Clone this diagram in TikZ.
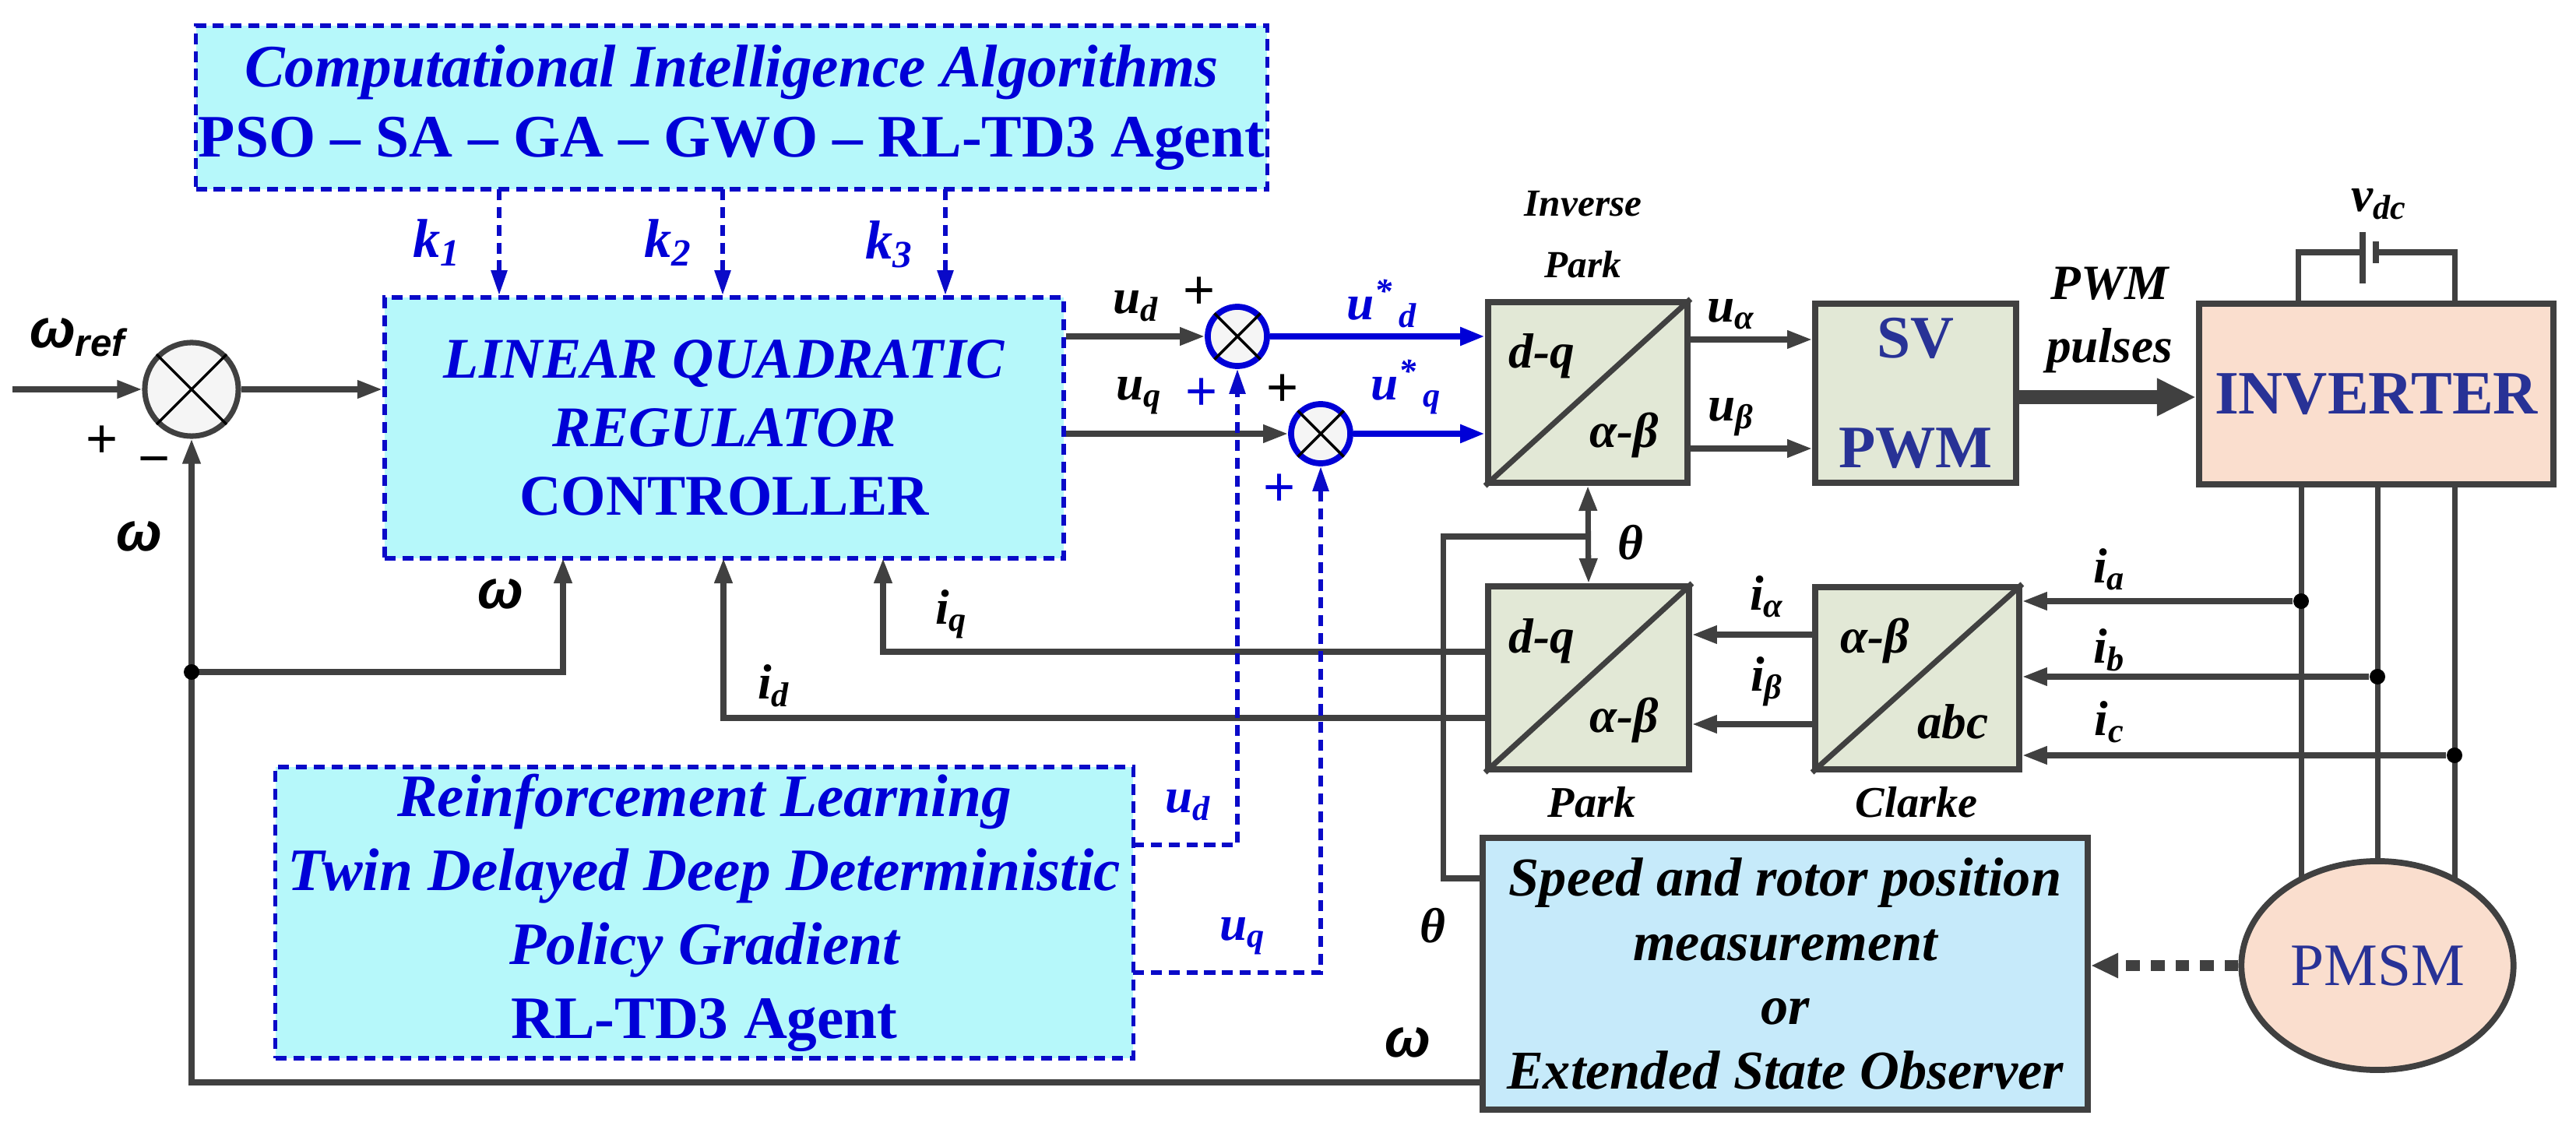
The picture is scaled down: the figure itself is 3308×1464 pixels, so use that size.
\documentclass[tikz,border=0pt]{standalone}
\usepackage{fontspec}
\setmainfont{Liberation Serif}
\newfontfamily\sansw{Liberation Sans}
\usetikzlibrary{arrows.meta,shapes.geometric,backgrounds}
\definecolor{cyanfill}{RGB}{182,248,250}
\definecolor{bluetxt}{RGB}{0,0,215}
\definecolor{dashblue}{RGB}{10,10,200}
\definecolor{lgray}{RGB}{64,64,64}
\definecolor{boxfill}{RGB}{226,232,214}
\definecolor{invfill}{RGB}{250,222,206}
\definecolor{spfill}{RGB}{198,234,250}
\definecolor{navy}{RGB}{40,50,150}
\tikzset{
  ln/.style={draw=lgray,line width=2pt},
  arr/.style={ln,-{Triangle[length=0.32cm,width=0.22cm]}},
  barr/.style={draw=bluetxt,line width=2.4pt,-{Triangle[length=0.32cm,width=0.22cm]}},
  dsh/.style={draw=dashblue,line width=1.6pt,dash pattern=on 4pt off 2.5pt},
  darr/.style={dsh,-{Triangle[length=0.32cm,width=0.2cm]}},
  cib/.style={rectangle,fill=cyanfill,dsh,inner sep=0,align=center,text=bluetxt,
     font=\fontsize{22}{25.5}\selectfont\bfseries},
  gb/.style={rectangle,fill=boxfill,draw=lgray,line width=2.2pt,inner sep=0},
  sj/.style={circle,draw=lgray,line width=2pt,fill=gray!8,inner sep=0},
  bsj/.style={circle,draw=bluetxt,line width=2.2pt,fill=gray!8,inner sep=0},
  lb/.style={font=\fontsize{18}{20}\selectfont\bfseries\itshape,inner sep=0},
  sm/.style={font=\fontsize{14}{16}\selectfont\bfseries\itshape,inner sep=0},
  pl/.style={font=\fontsize{20}{22}\selectfont\sansw,inner sep=0},
  wl/.style={font=\fontsize{20}{22}\selectfont\sansw\bfseries\itshape,inner sep=0},
  dot/.style={circle,fill=black,inner sep=0,minimum size=0.2cm},
}
\begin{document}
\begin{tikzpicture}[x=0.01cm,y=-0.01cm]
\useasboundingbox (0,0) rectangle (3308,1464);
\node[cib,minimum width=13.75cm,minimum height=2.1cm] (ci) at (939.5,138)
  {\itshape Computational Intelligence Algorithms\\PSO -- SA -- GA -- GWO -- RL-TD3 Agent};
\node[cib,minimum width=8.72cm,minimum height=3.35cm,font=\fontsize{21}{25}\selectfont\bfseries] (lqr) at (930,549.5)
  {\itshape LINEAR QUADRATIC\\\itshape REGULATOR\\CONTROLLER};
\node[cib,minimum width=11.01cm,minimum height=3.74cm,font=\fontsize{22}{27}\selectfont\bfseries] (rl) at (904.5,1172)
  {\itshape Reinforcement Learning\\\itshape Twin Delayed Deep Deterministic\\\itshape Policy Gradient\\RL-TD3 Agent};
\node[sj,minimum size=1.2cm] (s0) at (246,500) {};
\node[bsj,minimum size=0.76cm] (s1) at (1589,432) {};
\node[bsj,minimum size=0.76cm] (s2) at (1696,557) {};
\foreach \s in {s0,s1,s2}{
  \draw[line width=1pt] (\s.north east)--(\s.south west) (\s.north west)--(\s.south east);}
\node[gb,minimum width=2.56cm,minimum height=2.32cm] (ip) at (2039,504) {};
\node[gb,minimum width=2.58cm,minimum height=2.35cm] (pk) at (2040,870.5) {};
\node[gb,minimum width=2.62cm,minimum height=2.34cm] (cl) at (2462,871) {};
\foreach \b in {ip,pk,cl}{\draw[lgray,line width=2pt] (\b.south west)--(\b.north east);}
\node[gb,minimum width=2.58cm,minimum height=2.3cm,align=center,text=navy,
  font=\fontsize{22}{40}\selectfont\bfseries] (sv) at (2460,505) {SV\\PWM};
\node[gb,fill=invfill,minimum width=4.55cm,minimum height=2.32cm,text=navy,
  font=\fontsize{22.5}{24}\selectfont\bfseries] (inv) at (3051.5,506) {INVERTER};
\node[gb,fill=spfill,minimum width=7.77cm,minimum height=3.49cm,align=center,
  font=\fontsize{20}{23.5}\selectfont\bfseries\itshape] (sp) at (2292.5,1250.5)
  {Speed and rotor position\\measurement\\or\\Extended State Observer};
\node[ellipse,fill=invfill,draw=lgray,line width=2.2pt,minimum width=2.88cm,minimum height=2.68cm,
  text=navy,font=\fontsize{22}{24}\selectfont] (pm) at (3053,1240) {PMSM};
\begin{pgfonlayer}{background}
\foreach \x in {2955,3053,3152}{\draw[ln] (\x,622)--(\x,1240);}
\end{pgfonlayer}
\node[lb] at (1980,457) {d-q};
\node[lb] at (2086,559) {α-β};
\node[lb] at (1980,823) {d-q};
\node[lb] at (2086,925) {α-β};
\node[lb] at (2408,823) {α-β};
\node[lb] at (2508,927) {abc};
\node[sm] at (2033,262) {Inverse};
\node[sm] at (2033,340) {Park};
\node[lb,font=\fontsize{16}{18}\selectfont\bfseries\itshape] at (2044,1030) {Park};
\node[lb,font=\fontsize{16}{18}\selectfont\bfseries\itshape] at (2461,1030) {Clarke};
\coordinate (k1t) at (641,243); \coordinate (k2t) at (928,243); \coordinate (k3t) at (1214,243);
\draw[darr] (k1t)--(k1t|-lqr.north);
\draw[darr] (k2t)--(k2t|-lqr.north);
\draw[darr] (k3t)--(k3t|-lqr.north);
\node[lb,text=bluetxt,font=\fontsize{20}{22}\selectfont\bfseries\itshape] at (561,312) {k\textsubscript{1}};
\node[lb,text=bluetxt,font=\fontsize{20}{22}\selectfont\bfseries\itshape] at (858,312) {k\textsubscript{2}};
\node[lb,text=bluetxt,font=\fontsize{20}{22}\selectfont\bfseries\itshape] at (1142,314) {k\textsubscript{3}};
\coordinate (in) at (16,500);
\draw[arr] (in)--(s0.west);
\draw[arr] (s0.east)--(lqr.west|-s0);
\coordinate (fb) at (246,1390);
\draw[arr] (sp.west|-fb)--(fb)--(s0.south);
\coordinate (wd) at (246,863);
\draw[arr] (wd)--(723,863)--(723,717);
\node[dot] at (wd) {};
\coordinate (id0) at (1911,922);
\draw[arr] (id0)--(929,922)--(929,717);
\coordinate (iq0) at (1911,837);
\draw[arr] (iq0)--(1134,837)--(1134,717);
\node[wl] at (100,433) {ω\textsubscript{ref}};
\node[pl] at (131,567) {+};
\node[pl] at (198,600) {−};
\node[wl] at (179,689) {ω};
\node[wl] at (643,763) {ω};
\node[lb] at (994,881) {i\textsubscript{d}};
\node[lb] at (1222,789) {i\textsubscript{q}};
\draw[arr] (lqr.east|-s1)--(s1.west);
\draw[arr] (lqr.east|-s2)--(s2.west);
\draw[barr] (s1.east)--(ip.west|-s1);
\draw[barr] (s2.east)--(ip.west|-s2);
\node[lb] at (1459,393) {u\textsubscript{d}};
\node[pl] at (1540,376) {+};
\node[lb] at (1463,508) {u\textsubscript{q}};
\node[pl,text=bluetxt] at (1543,506) {+};
\node[pl] at (1647,501) {+};
\node[pl,text=bluetxt] at (1643,629) {+};
\node[lb,text=bluetxt] at (1775,390) {u\textsuperscript{*}\textsubscript{\,d}};
\node[lb,text=bluetxt] at (1806,497) {u\textsuperscript{*}\textsubscript{\,q}};
\coordinate (rd) at (1455,1085); \coordinate (rq) at (1455,1249);
\draw[darr] (rd)-|(s1.south);
\draw[darr] (rq)-|(s2.south);
\node[lb,text=bluetxt] at (1526,1034) {u\textsubscript{d}};
\node[lb,text=bluetxt] at (1596,1202) {u\textsubscript{q}};
\draw[ln,{Triangle[length=0.32cm,width=0.22cm]}-{Triangle[length=0.32cm,width=0.22cm]}] (ip.south)--(pk.north);
\coordinate (th) at (1853,689);
\draw[ln] (sp.west|-1904,1128)--(1853,1128)--(th)--(2039,689);
\node[lb] at (2094,697) {θ};
\node[lb] at (1840,1189) {θ};
\node[wl] at (1808,1339) {ω};
\draw[arr] (ip.east|-2167,436)--(sv.west|-2331,436);
\draw[arr] (ip.east|-2167,576)--(sv.west|-2331,576);
\node[lb] at (2223,404) {u\textsubscript{α}};
\node[lb] at (2223,536) {u\textsubscript{β}};
\draw[lgray,line width=5pt,-{Triangle[length=0.5cm,width=0.45cm]}] (sv.east|-2589,510)--(inv.west|-2824,510);
\node[lb] at (2709,364) {PWM};
\node[lb] at (2709,450) {pulses};
\draw[ln] (2951,390)--(2951,324)--(3034,324);
\draw[ln] (3051,324)--(3152,324)--(3152,390);
\draw[lgray,line width=2.4pt] (3034,298)--(3034,364);
\draw[lgray,line width=2.4pt] (3051,310)--(3051,338);
\node[lb] at (3055,262) {v\textsubscript{dc}};
\node[dot] (da) at (2955,772) {};
\node[dot] (db) at (3053,869) {};
\node[dot] (dc) at (3152,970) {};
\draw[arr] (da)--(cl.east|-da);
\draw[arr] (db)--(cl.east|-db);
\draw[arr] (dc)--(cl.east|-dc);
\node[lb] at (2709,731) {i\textsubscript{a}};
\node[lb] at (2709,835) {i\textsubscript{b}};
\node[lb] at (2709,927) {i\textsubscript{c}};
\draw[arr] (cl.west|-2331,815)--(pk.east|-2169,815);
\draw[arr] (cl.west|-2331,930)--(pk.east|-2169,930);
\node[lb] at (2269,766) {i\textsubscript{α}};
\node[lb] at (2269,875) {i\textsubscript{β}};
\draw[lgray,line width=4pt,dash pattern=on 5pt off 4pt,-{Triangle[length=0.35cm,width=0.3cm]}] (pm.west)--(sp.east|-pm.west);
\end{tikzpicture}
\end{document}
